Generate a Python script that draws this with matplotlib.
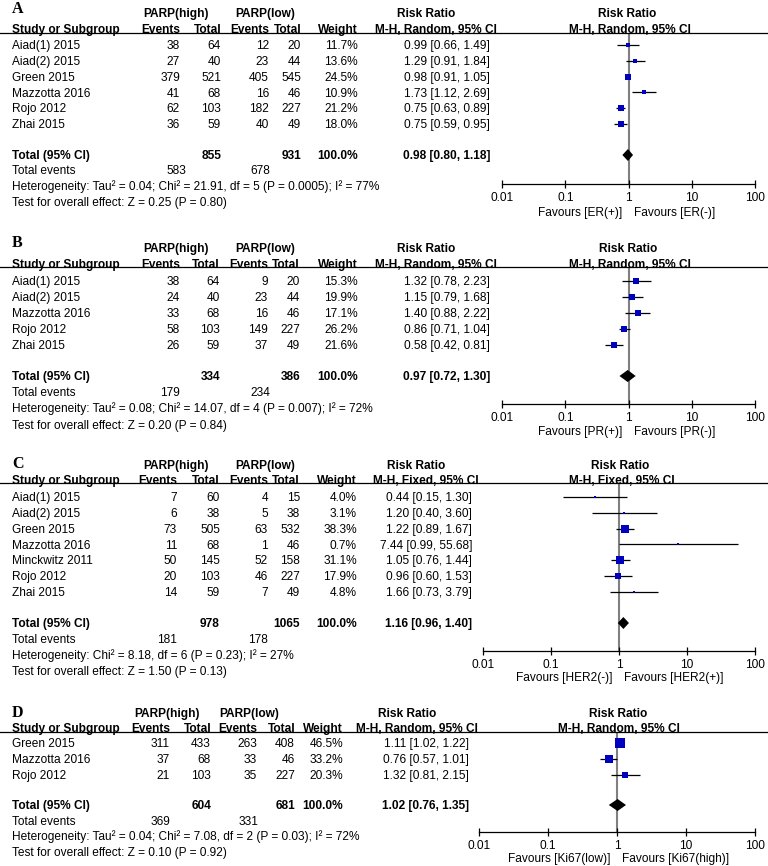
import numpy as np
import matplotlib
matplotlib.use("Agg")
import matplotlib.pyplot as plt
from matplotlib.lines import Line2D

plt.rcParams['font.family'] = ['Liberation Sans', 'DejaVu Sans']

# ---------------- DATA ----------------
# Panel A (ER)
studies_A = ["Aiad(1) 2015", "Aiad(2) 2015", "Green 2015", "Mazzotta 2016", "Rojo 2012", "Zhai 2015"]
ev_high_A = [38, 27, 379, 41, 62, 36]
tot_high_A = [64, 40, 521, 68, 103, 59]
ev_low_A = [12, 23, 405, 16, 182, 40]
tot_low_A = [20, 44, 545, 46, 227, 49]
weight_A = [11.7, 13.6, 24.5, 10.9, 21.2, 18.0]
rr_A = [0.99, 1.29, 0.98, 1.73, 0.75, 0.75]
lo_A = [0.66, 0.91, 0.91, 1.12, 0.63, 0.59]
hi_A = [1.49, 1.84, 1.05, 2.69, 0.89, 0.95]
total_A = [855, 931, 583, 678]          # total high, total low, events high, events low
pooled_A = [0.98, 0.80, 1.18]
method_A = "M-H, Random, 95% CI"
het_A = "Heterogeneity: Tau² = 0.04; Chi² = 21.91, df = 5 (P = 0.0005); I² = 77%"
test_A = "Test for overall effect: Z = 0.25 (P = 0.80)"
fav_A = ["Favours [ER(+)]", "Favours [ER(-)]"]

# Panel B (PR)
studies_B = ["Aiad(1) 2015", "Aiad(2) 2015", "Mazzotta 2016", "Rojo 2012", "Zhai 2015"]
ev_high_B = [38, 24, 33, 58, 26]
tot_high_B = [64, 40, 68, 103, 59]
ev_low_B = [9, 23, 16, 149, 37]
tot_low_B = [20, 44, 46, 227, 49]
weight_B = [15.3, 19.9, 17.1, 26.2, 21.6]
rr_B = [1.32, 1.15, 1.40, 0.86, 0.58]
lo_B = [0.78, 0.79, 0.88, 0.71, 0.42]
hi_B = [2.23, 1.68, 2.22, 1.04, 0.81]
total_B = [334, 386, 179, 234]
pooled_B = [0.97, 0.72, 1.30]
method_B = "M-H, Random, 95% CI"
het_B = "Heterogeneity: Tau² = 0.08; Chi² = 14.07, df = 4 (P = 0.007); I² = 72%"
test_B = "Test for overall effect: Z = 0.20 (P = 0.84)"
fav_B = ["Favours [PR(+)]", "Favours [PR(-)]"]

# Panel C (HER2)
studies_C = ["Aiad(1) 2015", "Aiad(2) 2015", "Green 2015", "Mazzotta 2016", "Minckwitz 2011", "Rojo 2012", "Zhai 2015"]
ev_high_C = [7, 6, 73, 11, 50, 20, 14]
tot_high_C = [60, 38, 505, 68, 145, 103, 59]
ev_low_C = [4, 5, 63, 1, 52, 46, 7]
tot_low_C = [15, 38, 532, 46, 158, 227, 49]
weight_C = [4.0, 3.1, 38.3, 0.7, 31.1, 17.9, 4.8]
rr_C = [0.44, 1.20, 1.22, 7.44, 1.05, 0.96, 1.66]
lo_C = [0.15, 0.40, 0.89, 0.99, 0.76, 0.60, 0.73]
hi_C = [1.30, 3.60, 1.67, 55.68, 1.44, 1.53, 3.79]
total_C = [978, 1065, 181, 178]
pooled_C = [1.16, 0.96, 1.40]
method_C = "M-H, Fixed, 95% CI"
het_C = "Heterogeneity: Chi² = 8.18, df = 6 (P = 0.23); I² = 27%"
test_C = "Test for overall effect: Z = 1.50 (P = 0.13)"
fav_C = ["Favours [HER2(-)]", "Favours [HER2(+)]"]

# Panel D (Ki67)
studies_D = ["Green 2015", "Mazzotta 2016", "Rojo 2012"]
ev_high_D = [311, 37, 21]
tot_high_D = [433, 68, 103]
ev_low_D = [263, 33, 35]
tot_low_D = [408, 46, 227]
weight_D = [46.5, 33.2, 20.3]
rr_D = [1.11, 0.76, 1.32]
lo_D = [1.02, 0.57, 0.81]
hi_D = [1.22, 1.01, 2.15]
total_D = [604, 681, 369, 331]
pooled_D = [1.02, 0.76, 1.35]
method_D = "M-H, Random, 95% CI"
het_D = "Heterogeneity: Tau² = 0.04; Chi² = 7.08, df = 2 (P = 0.03); I² = 72%"
test_D = "Test for overall effect: Z = 0.10 (P = 0.92)"
fav_D = ["Favours [Ki67(low)]", "Favours [Ki67(high)]"]

axis_ticks = [0.01, 0.1, 1, 10, 100]
axis_ticklabels = ["0.01", "0.1", "1", "10", "100"]

# ---------------- LAYOUT (pixels) ----------------
W, H = 768, 866
FS = 8.6
BLUE = '#0000BF'

layouts = {
    'A': dict(label_y=8, top_y=13, hdr_y=29, line_y=33, row0=45, dy=15.8, total_y=155, tev_y=170,
              het_y=186, test_y=202, axis_y=184, tick_y=198, fav_y=212,
              cols=(180, 221, 269, 301, 358), tev_cols=(186, 270), parp_c=(176, 265),
              rr_right=490, rr_hdr_c=(426, 436), fx0=502, fx1=755, fhdr_c=(627, 630)),
    'B': dict(label_y=242, top_y=248, hdr_y=264, line_y=267, row0=281, dy=16, total_y=376, tev_y=392,
              het_y=408, test_y=425, axis_y=404, tick_y=417, fav_y=431,
              cols=(180, 220, 268, 300, 358), tev_cols=(180, 270), parp_c=(176, 265),
              rr_right=490, rr_hdr_c=(426, 436), fx0=502, fx1=755, fhdr_c=(628, 630)),
    'C': dict(label_y=463, top_y=465, hdr_y=480, line_y=483, row0=497, dy=15.8, total_y=623, tev_y=639,
              het_y=655, test_y=671, axis_y=651, tick_y=663, fav_y=677,
              cols=(177, 220, 268, 300, 357), tev_cols=(177, 268), parp_c=(176, 265),
              rr_right=472, rr_hdr_c=(416, 426), fx0=483, fx1=755, fhdr_c=(620, 622)),
    'D': dict(label_y=712, top_y=713, hdr_y=728, line_y=732, row0=743, dy=16, total_y=805, tev_y=821,
              het_y=836, test_y=852, axis_y=832, tick_y=845, fav_y=858,
              cols=(170, 211, 257, 295, 343), tev_cols=(170, 258), parp_c=(167, 249),
              rr_right=469, rr_hdr_c=(407, 417), fx0=479, fx1=755, fhdr_c=(618, 619)),
}

panels = [
    ('A', studies_A, ev_high_A, tot_high_A, ev_low_A, tot_low_A, weight_A, rr_A, lo_A, hi_A,
     total_A, pooled_A, method_A, het_A, test_A, fav_A),
    ('B', studies_B, ev_high_B, tot_high_B, ev_low_B, tot_low_B, weight_B, rr_B, lo_B, hi_B,
     total_B, pooled_B, method_B, het_B, test_B, fav_B),
    ('C', studies_C, ev_high_C, tot_high_C, ev_low_C, tot_low_C, weight_C, rr_C, lo_C, hi_C,
     total_C, pooled_C, method_C, het_C, test_C, fav_C),
    ('D', studies_D, ev_high_D, tot_high_D, ev_low_D, tot_low_D, weight_D, rr_D, lo_D, hi_D,
     total_D, pooled_D, method_D, het_D, test_D, fav_D),
]

fig = plt.figure(figsize=(W / 100, H / 100), dpi=100)
fig.patch.set_facecolor('white')

CAP = 4.2  # half cap height in px -> baseline offset


def T(x, y, s, ha='left', bold=False, size=FS, **kw):
    fig.text(x / W, 1 - (y + CAP) / H, s, ha=ha, va='baseline', fontsize=size,
             fontweight='bold' if bold else 'normal', color='black', **kw)


def fmt_ci(r, l, h):
    return f"{r:.2f} [{l:.2f}, {h:.2f}]"


for (letter, studies, evh, toth, evl, totl, wts, rr, lo, hi, tot, pooled, method,
     het, test, fav) in panels:
    L = layouts[letter]
    c = L['cols']
    # panel letter
    fig.text(12 / W, 1 - (L['label_y'] + 5) / H, letter, ha='left', va='baseline',
             fontsize=11.5, family=['Liberation Serif', 'DejaVu Serif'], fontweight='bold')
    # group headers
    T(L['parp_c'][0], L['top_y'], "PARP(high)", ha='center', bold=True)
    T(L['parp_c'][1], L['top_y'], "PARP(low)", ha='center', bold=True)
    T(L['rr_hdr_c'][0], L['top_y'], "Risk Ratio", ha='center', bold=True)
    T(L['fhdr_c'][0], L['top_y'], "Risk Ratio", ha='center', bold=True)
    # column headers
    T(12, L['hdr_y'], "Study or Subgroup", bold=True)
    for x, s in zip(c, ["Events", "Total", "Events", "Total", "Weight"]):
        T(x, L['hdr_y'], s, ha='right', bold=True)
    T(L['rr_hdr_c'][1], L['hdr_y'], method, ha='center', bold=True)
    T(L['fhdr_c'][1], L['hdr_y'], method, ha='center', bold=True)
    # header rule
    fy = 1 - L['line_y'] / H
    fig.add_artist(Line2D([0, 1], [fy, fy], transform=fig.transFigure, color='black', lw=0.9))

    # study rows
    ys = [L['row0'] + i * L['dy'] for i in range(len(studies))]
    for i, y in enumerate(ys):
        T(12, y, studies[i])
        T(c[0], y, str(evh[i]), ha='right')
        T(c[1], y, str(toth[i]), ha='right')
        T(c[2], y, str(evl[i]), ha='right')
        T(c[3], y, str(totl[i]), ha='right')
        T(c[4], y, f"{wts[i]:.1f}%", ha='right')
        T(L['rr_right'], y, fmt_ci(rr[i], lo[i], hi[i]), ha='right')

    # totals
    T(12, L['total_y'], "Total (95% CI)", bold=True)
    T(c[1], L['total_y'], str(tot[0]), ha='right', bold=True)
    T(c[3], L['total_y'], str(tot[1]), ha='right', bold=True)
    T(c[4], L['total_y'], "100.0%", ha='right', bold=True)
    T(L['rr_right'], L['total_y'], fmt_ci(*pooled), ha='right', bold=True)
    T(12, L['tev_y'], "Total events")
    T(L['tev_cols'][0], L['tev_y'], str(tot[2]), ha='right')
    T(L['tev_cols'][1], L['tev_y'], str(tot[3]), ha='right')
    T(12, L['het_y'], het)
    T(12, L['test_y'], test)

    # forest axes: y data == pixel row
    ax = fig.add_axes([L['fx0'] / W, 1 - L['axis_y'] / H,
                       (L['fx1'] - L['fx0']) / W, (L['axis_y'] - L['line_y']) / H])
    ax.set_xscale('log')
    ax.set_xlim(0.01, 100)
    ax.set_ylim(L['axis_y'], L['line_y'])
    ax.patch.set_alpha(0)
    for sp in ['top', 'left', 'right']:
        ax.spines[sp].set_visible(False)
    ax.spines['bottom'].set_linewidth(0.9)
    ax.set_yticks([])
    ax.set_xticks(axis_ticks)
    ax.set_xticklabels(axis_ticklabels, fontsize=FS)
    ax.xaxis.set_minor_locator(matplotlib.ticker.NullLocator())
    ax.tick_params(axis='x', direction='inout', length=6, width=0.9, pad=3.0)

    # line of no effect
    ax.vlines(1, L['axis_y'], L['line_y'], color='#808080', lw=1.5, zorder=1)

    # CIs and squares
    ax.hlines(ys, lo, hi, color='black', lw=0.9, zorder=2, clip_on=False)
    for y, r, w in zip(ys, rr, wts):
        side_px = max(2.2, 1.35 * np.sqrt(w))
        ax.plot([r], [y], marker='s', ms=side_px * 0.72, color=BLUE, mec=BLUE, mew=0,
                zorder=3, clip_on=False)

    # pooled diamond
    pr, pl, ph = pooled
    ty = L['total_y']
    ax.fill([pl, pr, ph, pr], [ty, ty - 6, ty, ty + 6], color='black', zorder=4, lw=0)

    # favours labels
    x1px = L['fx0'] + (L['fx1'] - L['fx0']) / 2
    T(x1px - 6, L['fav_y'], fav[0], ha='right')
    T(x1px + 5, L['fav_y'], fav[1], ha='left')

fig.savefig('out.png', dpi=100, facecolor='white')
